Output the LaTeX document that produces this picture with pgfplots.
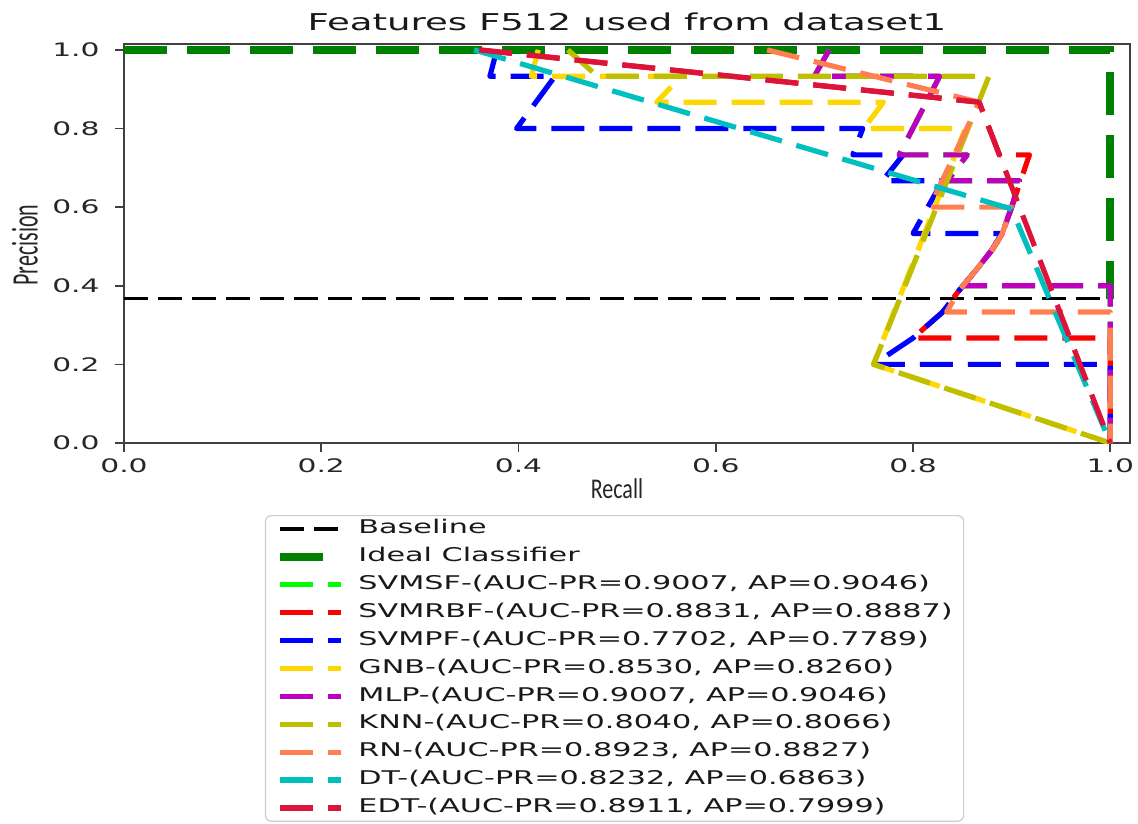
\documentclass[border=0pt]{standalone}
\usepackage{fontspec}
\setmainfont{DejaVu Sans}[FakeStretch=1.6]
\newfontfamily\labelfont{Carlito}
\usepackage{graphicx}
\usepackage{pgfplots}
\pgfplotsset{compat=1.18}
\definecolor{cLime}{HTML}{00FF00}
\definecolor{cRed}{HTML}{FF0000}
\definecolor{cBlue}{HTML}{0000FF}
\definecolor{cGold}{HTML}{FFD700}
\definecolor{cMag}{HTML}{BF00BF}
\definecolor{cOlive}{HTML}{BFBF00}
\definecolor{cCoral}{HTML}{FF7F50}
\definecolor{cCyan}{HTML}{00BFBF}
\definecolor{cCrimson}{HTML}{DC143C}
\definecolor{cGreen}{HTML}{008000}
\tikzset{
  cdash/.style={line width=2.6pt, dash pattern=on 16.5pt off 7.5pt, line join=round},
}
\begin{document}
\begin{tikzpicture}
\begin{axis}[name=ax,
  width=503pt, height=199.5pt, scale only axis,
  xmin=0, xmax=1.02, ymin=0, ymax=1.015,
  xtick={0,0.2,0.4,0.6,0.8,1}, xticklabels={0.0,0.2,0.4,0.6,0.8,1.0},
  ytick={0,0.2,0.4,0.6,0.8,1}, yticklabels={0.0,0.2,0.4,0.6,0.8,1.0},
  tick align=outside, tick pos=left, major tick length=4.5pt,
  axis line style={black!75, line width=1pt},
  tick style={black!75, line width=0.8pt},
  ticklabel style={font=\fontsize{9.3}{11}\selectfont, text=black!85},
  xticklabel style={inner sep=0pt, yshift=-3pt},
  yticklabel style={inner sep=0pt, xshift=-7.5pt},
  title={Features F512 used from dataset1},
  title style={at={(axis description cs:0.5,1)}, anchor=base, yshift=0.5pt, font=\fontsize{11.6}{13}\selectfont, text=black!90},
  xlabel={\scalebox{1}[1.3]{Recall}},
  xlabel style={at={(axis description cs:0.49,-0.1388)}, anchor=base, font=\labelfont\fontsize{11}{12}\selectfont, text=black!85},
  ylabel={\scalebox{1}[1.7]{Precision}},
  ylabel style={at={(axis description cs:-0.0984,0.496)}, anchor=center, font=\labelfont\fontsize{11}{12}\selectfont, text=black!85},
  legend image code/.code={\draw[#1] (0pt,0pt) -- (30.5pt,0pt);},
  legend cell align=left,
  legend style={at={(0.140,-0.1805)}, anchor=north west, draw=black!20, line width=0.6pt,
    rounded corners=3pt, fill=white,
    font=\fontsize{9.45}{11}\selectfont, text=black!90,
    inner xsep=5.5pt, inner ysep=2pt, row sep=4.65pt, column sep=6.5pt,
    nodes={inner sep=0pt, text height=7pt, text depth=2.3pt}},
]
% Baseline
\addplot[black, line width=1.6pt, dash pattern=on 12pt off 5pt] coordinates {(0,0.367) (1,0.367)};
\addlegendentry{Baseline}
% Ideal
\addplot[cGreen, line width=4pt, dash pattern=on 21.5pt off 10pt, line join=miter] coordinates {(0,1) (1,1) (1,0.367)};
\addlegendentry{Ideal Classifier}
% SVMSF (same as MLP)
\addplot[cLime, cdash] coordinates {(0.715,1.0) (0.70,0.933) (0.827,0.933) (0.786,0.733) (0.855,0.733) (0.835,0.667) (0.908,0.667) (0.90,0.60) (0.89,0.53) (0.88,0.491) (0.864,0.44) (0.851,0.40) (1.0,0.40) (1.0,0.0)};
\addlegendentry{SVMSF-(AUC-PR=0.9007, AP=0.9046)}
% SVMRBF
\addplot[cRed, cdash] coordinates {(0.36,1.0) (0.867,0.867) (0.8876,0.733) (0.918,0.733) (0.90,0.60) (0.89,0.53) (0.88,0.491) (0.864,0.44) (0.847,0.389) (0.83,0.333) (0.80,0.267) (1.0,0.267) (1.0,0.0)};
\addlegendentry{SVMRBF-(AUC-PR=0.8831, AP=0.8887)}
% SVMPF
\addplot[cBlue, cdash] coordinates {(0.378,1.0) (0.371,0.933) (0.437,0.933) (0.398,0.8) (0.749,0.8) (0.739,0.733) (0.79,0.733) (0.769,0.667) (0.83,0.667) (0.80,0.533) (0.89,0.533) (0.88,0.491) (0.864,0.44) (0.847,0.389) (0.83,0.333) (0.80,0.267) (0.76,0.20) (1.0,0.20) (1.0,0.0)};
\addlegendentry{SVMPF-(AUC-PR=0.7702, AP=0.7789)}
% GNB
\addplot[cGold, cdash] coordinates {(0.42,1.0) (0.413,0.933) (0.565,0.933) (0.54,0.867) (0.77,0.867) (0.75,0.8) (0.853,0.8) (0.76,0.20) (1.0,0.0)};
\addlegendentry{GNB-(AUC-PR=0.8530, AP=0.8260)}
% MLP
\addplot[cMag, cdash] coordinates {(0.715,1.0) (0.70,0.933) (0.827,0.933) (0.786,0.733) (0.855,0.733) (0.835,0.667) (0.908,0.667) (0.90,0.60) (0.89,0.53) (0.88,0.491) (0.864,0.44) (0.851,0.40) (1.0,0.40) (1.0,0.0)};
\addlegendentry{MLP-(AUC-PR=0.9007, AP=0.9046)}
% KNN
\addplot[cOlive, cdash] coordinates {(0.45,1.0) (0.48,0.933) (0.877,0.933) (0.76,0.20) (1.0,0.0)};
\addlegendentry{KNN-(AUC-PR=0.8040, AP=0.8066)}
% RN
\addplot[cCoral, cdash] coordinates {(0.652,1.0) (0.867,0.867) (0.817,0.60) (0.90,0.60) (0.89,0.53) (0.88,0.491) (0.864,0.44) (0.847,0.389) (0.834,0.333) (1.0,0.333) (1.0,0.0)};
\addlegendentry{RN-(AUC-PR=0.8923, AP=0.8827)}
% DT
\addplot[cCyan, cdash] coordinates {(0.355,1.0) (0.90,0.595) (1.0,0.0)};
\addlegendentry{DT-(AUC-PR=0.8232, AP=0.6863)}
% EDT
\addplot[cCrimson, cdash] coordinates {(0.36,1.0) (0.867,0.867) (1.0,0.0)};
\addlegendentry{EDT-(AUC-PR=0.8911, AP=0.7999)}
\end{axis}
\pgfresetboundingbox
\path[use as bounding box] (ax.south west) ++(-62pt,-190pt) rectangle ++(569pt,411.5pt);
\end{tikzpicture}
\end{document}
